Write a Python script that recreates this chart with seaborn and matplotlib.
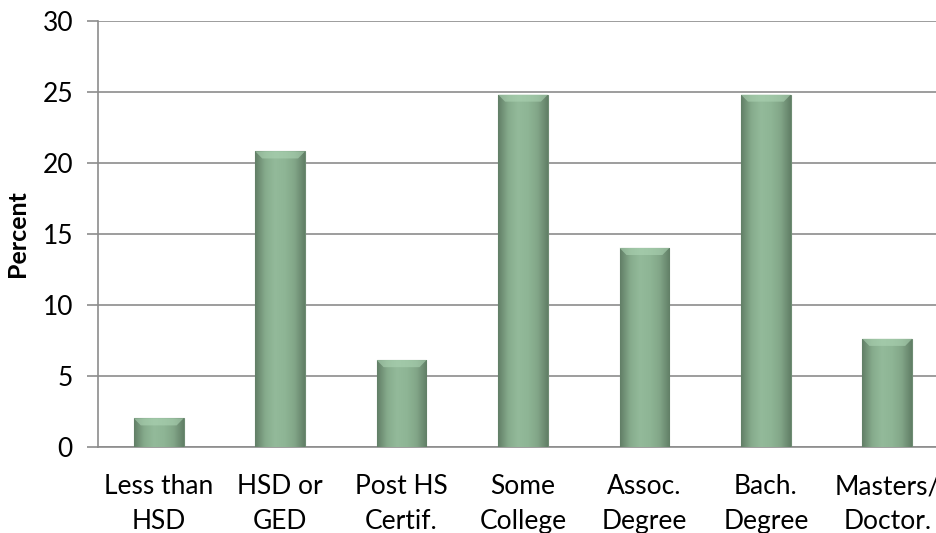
import numpy as np
import pandas as pd
import matplotlib
matplotlib.use("Agg")
import matplotlib.pyplot as plt
import seaborn as sns
from matplotlib.colors import LinearSegmentedColormap
from matplotlib.patches import Polygon

# Education level distribution
categories = ["Less than\nHSD", "HSD or\nGED", "Post HS\nCertif.", "Some\nCollege",
              "Assoc.\nDegree", "Bach.\nDegree", "Masters/\nDoctor."]
percent = [2.0, 20.8, 6.1, 24.8, 14.0, 24.8, 7.6]
y_ticks = [0, 5, 10, 15, 20, 25, 30]

df = pd.DataFrame({"level": categories, "percent": percent})

sns.set_theme(style="white")
plt.rcParams["font.family"] = ["Lato", "DejaVu Sans"]

fig = plt.figure(figsize=(9.36, 5.33), dpi=100)
ax = fig.add_axes([98 / 936, 86.3 / 533, 850 / 936, 426 / 533])

sns.barplot(data=df, x="level", y="percent", ax=ax, color="#8db594",
            width=0.41, edgecolor="#6e8c73", linewidth=0.8, saturation=1, zorder=3)

# Shaded bevel effect on each bar
shade = LinearSegmentedColormap.from_list(
    "bevel", ["#627f67", "#86ab8c", "#93ba9a", "#8eb595", "#82a688", "#627f67"])
grad = np.linspace(0, 1, 64).reshape(1, -1)
for bar in ax.patches:
    x0, y0 = bar.get_x(), bar.get_y()
    w, h = bar.get_width(), bar.get_height()
    im = ax.imshow(grad, cmap=shade, aspect="auto", extent=(x0, x0 + w, y0, y0 + h),
                   zorder=3.5, interpolation="bicubic")
    im.set_clip_path(bar)
    cap = min(0.5, h * 0.3)
    inset = w * 0.14
    top = Polygon([(x0, y0 + h), (x0 + w, y0 + h), (x0 + w - inset, y0 + h - cap),
                   (x0 + inset, y0 + h - cap)], closed=True,
                  facecolor="#acd3b3", alpha=0.6, linewidth=0, zorder=3.6)
    ax.add_patch(top)

ax.set_xlim(-0.5, 6.5)
ax.set_ylim(0, 30)
ax.set_yticks(y_ticks)
ax.set_yticklabels([str(t) for t in y_ticks])
ax.yaxis.grid(True, color="#8c8c8c", linewidth=1.2, zorder=0)
ax.set_axisbelow(True)

ax.set_xticks(np.arange(7))
ax.set_xticklabels(categories, fontsize=19, linespacing=1.48, color="black")
ax.set_xticks(np.arange(-0.5, 7.0, 1.0), minor=True)
ax.tick_params(axis="x", which="major", length=0, pad=20)
ax.tick_params(axis="x", which="minor", length=7, width=1.2, color="#8c8c8c", direction="out")
ax.tick_params(axis="y", length=8, width=1.2, color="#8c8c8c", direction="out",
               labelsize=19, pad=10, left=True, labelcolor="black")

for side in ["top", "right"]:
    ax.spines[side].set_visible(False)
for side in ["left", "bottom"]:
    ax.spines[side].set_color("#8c8c8c")
    ax.spines[side].set_linewidth(1.2)

ax.set_xlabel("")
ax.set_ylabel("Percent", fontsize=18, fontweight="bold", color="black")
ax.yaxis.set_label_coords(-69 / 850, 0.5)

fig.savefig("out.png", dpi=100)
